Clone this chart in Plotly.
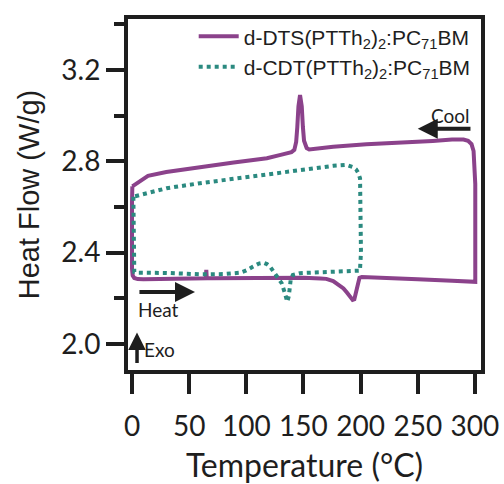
import plotly.graph_objects as go

# DSC loop for d-DTS(PTTh2)2:PC71BM (heat -> 300 °C, then cool -> 0 °C)
dts_temp = [0.3, 0.0, 0.0, 0.6, 2, 5, 10, 20, 40, 60, 64.6, 65.0, 65.4, 70, 90, 110, 130,
            150, 165, 170, 176, 181, 185, 188, 191, 193, 194.5, 196, 197.5, 199, 201,
            220, 250, 280, 300.3, 300.3, 299.8, 298.8, 297, 294, 290, 280, 263, 234,
            205, 176, 161, 155, 152.8, 150.5, 149.5, 148.5, 147, 145.6, 144.6, 143.6,
            142, 139.5, 130, 118, 89, 60, 30, 14, 0.3]
dts_flow = [2.690, 2.620, 2.330, 2.300, 2.289, 2.284, 2.283, 2.284, 2.286, 2.288, 2.288,
            2.325, 2.288, 2.288, 2.289, 2.290, 2.291, 2.290, 2.287, 2.285, 2.275, 2.260,
            2.243, 2.225, 2.205, 2.193, 2.196, 2.225, 2.265, 2.290, 2.293, 2.288, 2.283,
            2.277, 2.272, 2.700, 2.790, 2.845, 2.875, 2.890, 2.895, 2.895, 2.889, 2.883,
            2.874, 2.864, 2.857, 2.852, 2.858, 2.890, 2.950, 3.040, 3.090, 3.040, 2.950,
            2.885, 2.850, 2.840, 2.828, 2.813, 2.795, 2.774, 2.753, 2.736, 2.690]

# DSC loop for d-CDT(PTTh2)2:PC71BM (heat -> 200 °C, then cool -> 0 °C)
cdt_temp = [1.2, 1.2, 2, 4, 30, 60, 80, 94.5, 100, 106, 111, 115, 118, 120.7, 123.5,
            126.6, 130.9, 133.8, 135.8, 137.2, 138.2, 138.8, 140.7, 146.9, 160, 175,
            190, 199.4, 200.3, 200.3, 199.5, 198, 196, 193.6, 187.8, 176, 147, 117.8,
            88.6, 59.5, 30.3, 7, 2.9, 1.2]
cdt_flow = [2.645, 2.330, 2.315, 2.312, 2.311, 2.305, 2.306, 2.312, 2.322, 2.339, 2.352,
            2.356, 2.350, 2.339, 2.320, 2.302, 2.266, 2.222, 2.185, 2.210, 2.240, 2.280,
            2.302, 2.310, 2.313, 2.317, 2.320, 2.321, 2.400, 2.689, 2.725, 2.748, 2.765,
            2.774, 2.784, 2.780, 2.762, 2.743, 2.726, 2.704, 2.682, 2.653, 2.645, 2.645]

x_ticks = [0, 50, 100, 150, 200, 250, 300]
y_ticks = [2.0, 2.4, 2.8, 3.2]

PURPLE = "#8B428B"
TEAL = "#2B8A80"
INK = "#1e1e1e"

fig = go.Figure()
fig.add_trace(go.Scatter(
    x=dts_temp, y=dts_flow, mode="lines",
    name="d-DTS(PTTh<sub>2</sub>)<sub>2</sub>:PC<sub>71</sub>BM",
    line=dict(color=PURPLE, width=4),
))
fig.add_trace(go.Scatter(
    x=cdt_temp, y=cdt_flow, mode="lines",
    name="d-CDT(PTTh<sub>2</sub>)<sub>2</sub>:PC<sub>71</sub>BM",
    line=dict(color=TEAL, width=4, dash="dot"),
))

tick_font = dict(family="Lato", size=28, color=INK)

fig.update_xaxes(
    range=[-3.5, 305.3], tickvals=x_ticks, ticks="outside", ticklen=20, tickwidth=4,
    tickcolor=INK, showline=True, linewidth=4, linecolor=INK, mirror=True,
    showgrid=False, zeroline=False, tickfont=tick_font, automargin=False,
    ticklabelstandoff=8,
    title=dict(text="Temperature (°C)", font=dict(family="Lato", size=32, color=INK),
               standoff=16),
)
fig.update_yaxes(
    range=[1.886, 3.423], tickvals=y_ticks, tickformat=".1f", ticks="outside",
    ticklen=18, tickwidth=4, tickcolor=INK, showline=True, linewidth=4,
    linecolor=INK, mirror=True, showgrid=False, zeroline=False, tickfont=tick_font,
    automargin=False,
    minor=dict(tickvals=[2.2, 2.6, 3.0, 3.4], ticks="outside", ticklen=10,
               tickwidth=4, tickcolor=INK, showgrid=False),
    title=dict(text="Heat Flow (W/g)", font=dict(family="Liberation Sans", size=29,
               color=INK), standoff=14),
)

arrow = dict(showarrow=True, arrowhead=2, arrowsize=1.0, arrowcolor=INK,
             xref="x", yref="y", axref="x", ayref="y", text="")
fig.add_annotation(x=250, y=2.942, ax=297.4, ay=2.942, arrowwidth=4, **arrow)
fig.add_annotation(x=55.1, y=2.228, ax=5.2, ay=2.228, arrowwidth=4, **arrow)
fig.add_annotation(x=4.4, y=2.05, ax=4.4, ay=1.91, arrowwidth=3.5, **arrow)

label_font = dict(family="Lato", size=19, color=INK)
fig.add_annotation(x=279, y=3.0, text="Cool", showarrow=False, font=label_font)
fig.add_annotation(x=23.6, y=2.153, text="Heat", showarrow=False, font=label_font)
fig.add_annotation(x=8.5, y=1.974, text="Exo", showarrow=False, xanchor="left",
                   font=label_font)

fig.update_layout(
    width=504, height=484, margin=dict(l=128, r=23, t=19, b=114),
    plot_bgcolor="white", paper_bgcolor="white",
    legend=dict(x=0.985, xanchor="right", y=1.008, yanchor="top",
                bgcolor="rgba(0,0,0,0)", font=dict(family="Liberation Sans", size=21,
                color=INK), itemwidth=40, tracegroupgap=0),
)

fig.write_html("out.html")
